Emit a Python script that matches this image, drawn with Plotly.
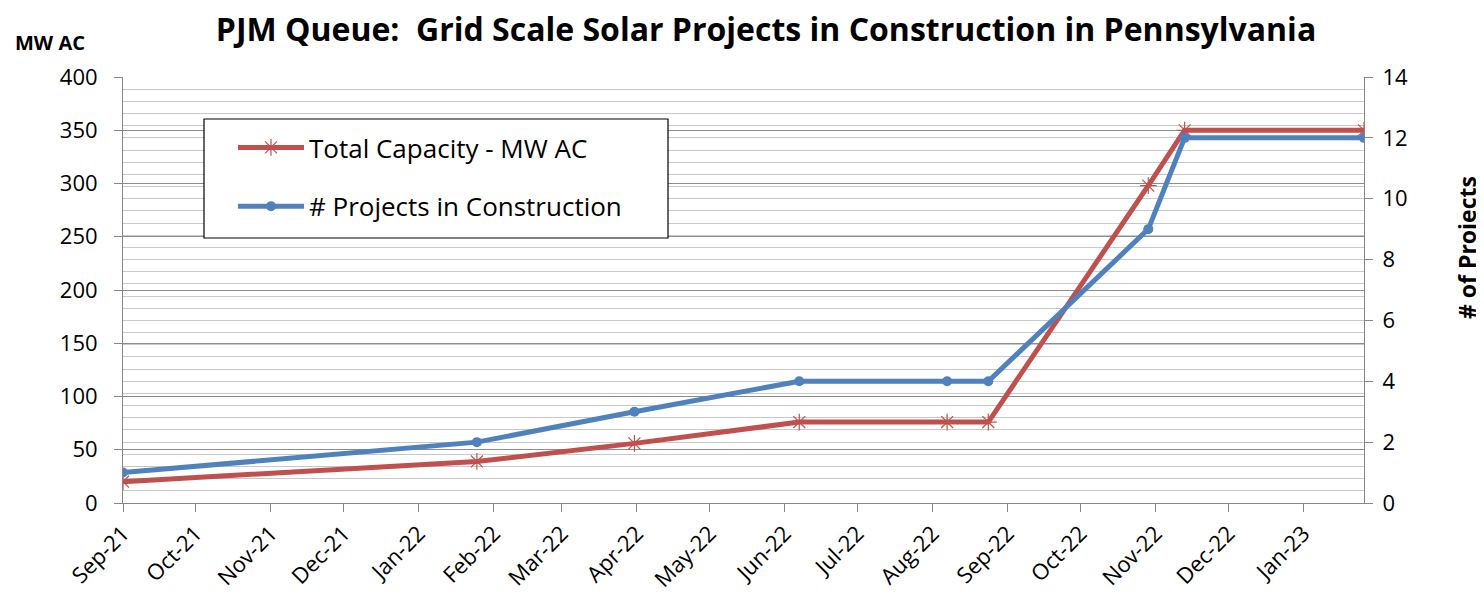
import plotly.graph_objects as go

dates = ["2021-09-01", "2022-01-25", "2022-03-31", "2022-06-07", "2022-08-07",
         "2022-08-24", "2022-10-29", "2022-11-13", "2023-01-26"]
capacity_mw = [20, 39, 56, 76, 76, 76, 298, 350, 350]
projects = [1, 2, 3, 4, 4, 4, 9, 12, 12]

title_text = "PJM Queue:  Grid Scale Solar Projects in Construction in Pennsylvania"
left_label = "MW AC"
right_label = "# of Projects"
name_cap = "Total Capacity - MW AC"
name_proj = "# Projects in Construction"

RED = "#C0504D"
BLUE = "#4F81BD"
FONT = "Open Sans"

fig = go.Figure()
fig.add_trace(go.Scatter(
    x=dates, y=capacity_mw, name=name_cap, mode="lines+markers",
    line=dict(color=RED, width=5),
    marker=dict(symbol="asterisk-open", size=14, color=RED, line=dict(color=RED, width=1.2)),
    legendgroup="a", yaxis="y"))
fig.add_trace(go.Scatter(
    x=dates, y=projects, name=name_proj, mode="lines+markers",
    line=dict(color=BLUE, width=5),
    marker=dict(symbol="circle", size=10, color=BLUE),
    legendgroup="b", yaxis="y2"))

# page has an 8px body margin
OFF = 8
SW, SH = 1484, 600
W, H = SW - OFF, SH - OFF
# plot area in screen pixels
L, R, T, B = 123, 1364, 77, 503


def px(xs):
    return (xs - L) / (R - L)


def py(ys):
    return (B - ys) / (B - T)


TICKFONT = dict(size=22, family=FONT, color="black")

fig.update_layout(
    width=W, height=H,
    margin=dict(l=L - OFF, r=SW - R, t=T - OFF, b=SH - B, autoexpand=False),
    paper_bgcolor="white", plot_bgcolor="white",
    font=dict(family=FONT, color="black"),
    title=dict(text=title_text, x=(766 - OFF) / W, xanchor="center",
               y=1 - (30 - OFF) / H, yanchor="middle", pad=dict(t=0, b=0),
               font=dict(family=FONT, size=32, color="black", weight="bold")),
    xaxis=dict(type="date", range=["2021-09-01", "2023-01-26"], automargin=False,
               dtick="M1", tick0="2021-09-01", tickformat="%b-%y", tickangle=-45,
               ticks="outside", ticklen=8, tickcolor="#868686",
               showline=True, linecolor="#868686", linewidth=1,
               showgrid=False, zeroline=False, tickfont=TICKFONT),
    yaxis=dict(range=[0, 400], dtick=50, tick0=0, automargin=False,
               ticks="outside", ticklen=8, tickcolor="#868686", ticklabelstandoff=12,
               showline=True, linecolor="#868686", linewidth=1,
               showgrid=True, gridcolor="#8C8C8C", gridwidth=1, zeroline=False,
               tickfont=TICKFONT),
    yaxis2=dict(range=[0, 14], dtick=2, tick0=0, overlaying="y", side="right", automargin=False,
                ticks="outside", ticklen=8, tickcolor="#868686", ticklabelstandoff=5,
                showline=True, linecolor="#868686", linewidth=1,
                showgrid=True, gridcolor="#C8C8C8", gridwidth=1, zeroline=False,
                minor=dict(dtick=0.4, showgrid=True, gridcolor="#C8C8C8", gridwidth=1),
                tickfont=TICKFONT),
    showlegend=True,
    legend=dict(x=px(233), y=py(124), xanchor="left", yanchor="top",
                bgcolor="rgba(0,0,0,0)", borderwidth=0,
                font=dict(family=FONT, size=26, color="black"),
                itemwidth=66, tracegroupgap=22),
    shapes=[dict(type="rect", xref="paper", yref="paper",
                 x0=px(204), x1=px(668), y0=py(238), y1=py(119),
                 line=dict(color="black", width=1.2), fillcolor="white", layer="above")],
    annotations=[
        dict(text="<b>" + left_label + "</b>", xref="paper", yref="paper",
             x=px(50), y=py(42), xanchor="center", yanchor="middle",
             showarrow=False, font=dict(family=FONT, size=20, color="black")),
        dict(text="<b>" + right_label + "</b>", xref="paper", yref="paper",
             x=px(1467), y=py(248), xanchor="center", yanchor="middle",
             textangle=-90, showarrow=False, font=dict(family=FONT, size=23, color="black")),
    ],
)

fig.write_html("out.html")
